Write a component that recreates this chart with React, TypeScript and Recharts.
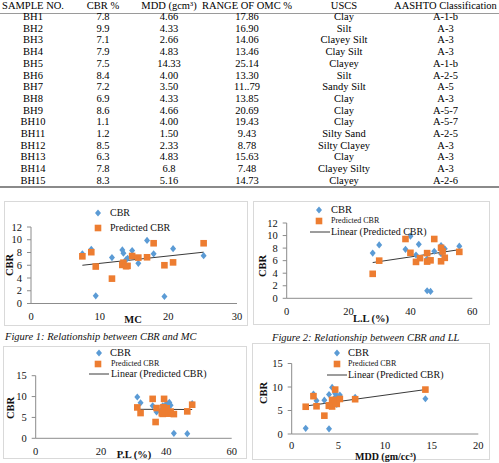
import React from 'react'
import { ScatterChart, Scatter, XAxis, YAxis, ReferenceLine } from 'recharts'

const SERIF = '"Liberation Serif", "Times New Roman", serif'
const BLUE = '#5B9BD5'
const ORANGE = '#ED7D31'
const AXIS = '#8c8c8c'

// soil test table
const samples = ['BH1', 'BH2', 'BH3', 'BH4', 'BH5', 'BH6', 'BH7', 'BH8', 'BH9', 'BH10', 'BH11', 'BH12', 'BH13', 'BH14', 'BH15']
const cbr = [7.8, 9.9, 7.1, 7.9, 7.5, 8.4, 7.2, 6.9, 8.6, 1.1, 1.2, 8.5, 6.3, 7.8, 8.3]
const mddLabels = ['4.66', '4.33', '2.66', '4.83', '14.33', '4.00', '3.50', '4.33', '4.66', '4.00', '1.50', '2.33', '4.83', '6.8', '5.16']
const omcLabels = ['17.86', '16.90', '14.06', '13.46', '25.14', '13.30', '11..79', '13.85', '20.69', '19.43', '9.43', '8.78', '15.63', '7.48', '14.73']
const omc = [17.86, 16.9, 14.06, 13.46, 25.14, 13.3, 11.79, 13.85, 20.69, 19.43, 9.43, 8.78, 15.63, 7.48, 14.73]
const uscs = ['Clay', 'Silt', 'Clayey Silt', 'Clay Silt', 'Clayey', 'Silt', 'Sandy Silt', 'Clay', 'Clay', 'Clay', 'Silty Sand', 'Silty Clayey', 'Clay', 'Clayey Silty', 'Clayey']
const aashto = ['A-1-b', 'A-3', 'A-3', 'A-3', 'A-1-b', 'A-2-5', 'A-5', 'A-3', 'A-5-7', 'A-5-7', 'A-2-5', 'A-3', 'A-3', 'A-3', 'A-2-6']
const mdd = mddLabels.map(Number)

// predicted CBR per sample
const predicted = [9.45, 7.25, 5.9, 6.4, 9.45, 6.05, 3.9, 5.85, 6.45, 6.0, 5.8, 8.05, 7.2, 7.4, 7.45]

// liquid limit plot
const llCbrX = [38.4, 40.0, 49.9, 51.1, 47.7, 49.9, 27.8, 41.8, 42.7, 46.5, 45.4, 29.9, 45.4, 50.4, 55.8]
const llPredX = [27.8, 29.9, 38.4, 40.0, 41.8, 43.1, 45.4, 45.4, 46.5, 47.7, 49.9, 49.9, 50.4, 51.1, 55.8]
const llPredY = [3.9, 6.0, 9.45, 7.25, 5.8, 6.4, 7.2, 5.85, 6.05, 9.45, 5.9, 8.05, 7.45, 6.45, 7.4]

// plastic limit plot
const plCbrX = [38.9, 31.1, 39.3, 41.3, 39.7, 40.1, 40.3, 38.6, 40.9, 46.4, 42.3, 32.1, 37.0, 35.8, 47.9]
const plPredX = [31.1, 32.1, 35.8, 36.7, 37.0, 38.9, 39.1, 39.3, 40.1, 40.5, 41.3, 42.3, 46.4, 47.9, 38.6]
const plPredY = [7.4, 6.05, 9.45, 3.9, 7.25, 5.85, 7.45, 9.45, 7.2, 5.9, 6.4, 5.8, 6.45, 8.05, 6.0]

// linear trend end points for predicted CBR
const mcTrend = [{ x: 7.48, y: 6.0 }, { x: 25.14, y: 8.05 }]
const llTrend = [{ x: 27.8, y: 5.7 }, { x: 55.8, y: 7.75 }]
const plTrend = [{ x: 31.1, y: 6.95 }, { x: 47.9, y: 6.9 }]
const mddTrend = [{ x: 1.5, y: 5.95 }, { x: 14.33, y: 9.45 }]

type Pt = { x: number; y: number }
const zip = (xs: number[], ys: number[]): Pt[] => xs.map((x, i) => ({ x, y: ys[i] }))

const Diamond = (props: any) => {
  const { cx, cy } = props
  if (cx == null || cy == null) return null
  return <polygon points={`${cx},${cy - 3.6} ${cx + 3},${cy} ${cx},${cy + 3.6} ${cx - 3},${cy}`} fill={BLUE} />
}

const Square = (props: any) => {
  const { cx, cy } = props
  if (cx == null || cy == null) return null
  return <rect x={cx - 3.3} y={cy - 3.3} width={6.6} height={6.6} fill={ORANGE} />
}

interface TxtProps {
  x: number
  y: number
  size: number
  children: React.ReactNode
  center?: boolean
  bold?: boolean
  italic?: boolean
  rotate?: boolean
}

function Txt({ x, y, size, children, center, bold, italic, rotate }: TxtProps) {
  const shift = center || rotate ? '-50%' : '0'
  return (
    <div
      style={{
        position: 'absolute',
        left: x,
        top: y,
        fontSize: size,
        lineHeight: 1,
        whiteSpace: 'nowrap',
        fontWeight: bold ? 'bold' : 'normal',
        fontStyle: italic ? 'italic' : 'normal',
        transform: `translate(${shift}, -50%)${rotate ? ' rotate(-90deg)' : ''}`,
        color: '#111',
      }}
    >
      {children}
    </div>
  )
}

interface PanelProps {
  left: number
  top: number
  width: number
  height: number
  margin: { top: number; right: number; bottom: number; left: number }
  xDomain: [number, number]
  xTicks: number[]
  yDomain: [number, number]
  yTicks: number[]
  cbrPts: Pt[]
  predPts: Pt[]
  trend: Pt[]
  xTickMargin?: number
}

function Panel(p: PanelProps) {
  const tick = { fill: '#111', fontSize: 10.5, fontFamily: SERIF }
  return (
    <div style={{ position: 'absolute', left: p.left, top: p.top, width: p.width, height: p.height }}>
      <div style={{ position: 'absolute', inset: 0, border: '1px solid #d9d9d9', boxSizing: 'border-box' }} />
      <ScatterChart width={p.width} height={p.height} margin={p.margin}>
        <XAxis
          type="number"
          dataKey="x"
          domain={p.xDomain}
          ticks={p.xTicks}
          interval={0}
          allowDataOverflow
          height={20}
          stroke={AXIS}
          tickLine={false}
          tickSize={4}
          tickMargin={p.xTickMargin ?? 5}
          tick={tick}
        />
        <YAxis
          type="number"
          dataKey="y"
          domain={p.yDomain}
          ticks={p.yTicks}
          interval={0}
          allowDataOverflow
          width={22}
          stroke={AXIS}
          tickSize={4}
          tickMargin={5}
          tick={tick}
        />
        <Scatter data={p.cbrPts} shape={Diamond} isAnimationActive={false} />
        <Scatter data={p.predPts} shape={Square} isAnimationActive={false} />
        <ReferenceLine segment={p.trend} stroke="#3a3a3a" strokeWidth={1} />
      </ScatterChart>
    </div>
  )
}

function LegendKey({ x, y, kind }: { x: number; y: number; kind: 'diamond' | 'square' | 'line' }) {
  const w = kind === 'line' ? 20 : 8
  return (
    <svg style={{ position: 'absolute', left: kind === 'line' ? x : x - 4, top: y - 4 }} width={w} height={8}>
      {kind === 'diamond' && <polygon points="4,0.4 7,4 4,7.6 1,4" fill={BLUE} />}
      {kind === 'square' && <rect x={0.7} y={0.7} width={6.6} height={6.6} fill={ORANGE} />}
      {kind === 'line' && <line x1={0} y1={4} x2={20} y2={4} stroke="#3a3a3a" strokeWidth={1} />}
    </svg>
  )
}

const colWidths = [66, 74, 58, 98, 96, 107]

function Row({ cells, y }: { cells: React.ReactNode[]; y: number }) {
  return (
    <div style={{ position: 'absolute', left: 0, top: y - 6, width: 499, height: 12, display: 'flex', fontSize: 10.5, lineHeight: '12px', color: '#000' }}>
      {cells.map((c, i) => (
        <div key={i} style={{ width: colWidths[i], textAlign: 'center', whiteSpace: 'nowrap' }}>
          {c}
        </div>
      ))}
    </div>
  )
}

export default function App() {
  const mcCbr = zip(omc, cbr)
  const mcPred = zip(omc, predicted)
  const mddCbr = zip(mdd, cbr)
  const mddPred = zip(mdd, predicted)

  return (
    <div style={{ position: 'absolute', left: 0, top: 0, width: 499, height: 463, overflow: 'hidden', background: '#fff', fontFamily: SERIF }}>
      <Row y={6} cells={['SAMPLE NO.', 'CBR %', 'MDD (gcm³)', 'RANGE OF  OMC %', 'USCS', 'AASHTO Classification']} />
      <div style={{ position: 'absolute', left: 0, top: 13, width: 499, height: 1, background: '#9a9a9a' }} />
      {samples.map((s, i) => (
        <Row key={s} y={17 + i * 11.7} cells={[s, cbr[i].toFixed(1), mddLabels[i], omcLabels[i], uscs[i], aashto[i]]} />
      ))}
      <div style={{ position: 'absolute', left: 0, top: 186, width: 499, height: 1.5, background: '#8a8a8a' }} />

      {/* CBR vs MC */}
      <Panel
        left={4} top={201} width={244} height={125}
        margin={{ top: 26, right: 11, bottom: 2.5, left: 5 }}
        xDomain={[0, 30]} xTicks={[0, 10, 20, 30]}
        yDomain={[0, 12]} yTicks={[0, 2, 4, 6, 8, 10, 12]}
        cbrPts={mcCbr} predPts={mcPred} trend={mcTrend}
      />
      <LegendKey x={98} y={213} kind="diamond" />
      <Txt x={110} y={213} size={10}>CBR</Txt>
      <LegendKey x={98} y={228} kind="square" />
      <Txt x={110} y={228} size={10}>Predicted CBR</Txt>
      <Txt x={10} y={265} size={10.5} bold rotate>CBR</Txt>
      <Txt x={133} y={320} size={10.5} bold center>MC</Txt>
      <Txt x={5} y={337} size={10.5} italic>Figure 1: Relationship between CBR and MC</Txt>

      {/* CBR vs LL */}
      <Panel
        left={253} top={201} width={237} height={124}
        margin={{ top: 22, right: 17.7, bottom: 6.7, left: 11.7 }}
        xDomain={[0, 60]} xTicks={[0, 20, 40, 60]}
        yDomain={[0, 12]} yTicks={[0, 2, 4, 6, 8, 10, 12]}
        cbrPts={zip(llCbrX, cbr)} predPts={zip(llPredX, llPredY)} trend={llTrend}
      />
      <LegendKey x={319} y={210} kind="diamond" />
      <Txt x={331} y={210} size={10.5}>CBR</Txt>
      <LegendKey x={319} y={221} kind="square" />
      <Txt x={331} y={221} size={8}>Predicted CBR</Txt>
      <LegendKey x={310} y={232} kind="line" />
      <Txt x={331} y={232} size={10}>Linear (Predicted CBR)</Txt>
      <Txt x={263} y={266} size={10.5} bold rotate>CBR</Txt>
      <Txt x={371} y={319} size={10.5} bold center>L.L (%)</Txt>
      <Txt x={272} y={338} size={10.5} italic>Figure 2: Relationship between CBR and LL</Txt>

      {/* CBR vs PL */}
      <Panel
        left={3} top={346} width={244} height={113}
        margin={{ top: 29.7, right: 15.3, bottom: 0.7, left: 10.7 }}
        xDomain={[0, 60]} xTicks={[0, 20, 40, 60]}
        yDomain={[0, 15]} yTicks={[0, 5, 10, 15]}
        cbrPts={zip(plCbrX, cbr)} predPts={zip(plPredX, plPredY)} trend={plTrend}
      />
      <LegendKey x={99} y={353} kind="diamond" />
      <Txt x={110} y={353} size={10.5}>CBR</Txt>
      <LegendKey x={98} y={364} kind="square" />
      <Txt x={111} y={364} size={8}>Predicted CBR</Txt>
      <LegendKey x={89} y={374} kind="line" />
      <Txt x={111} y={374} size={10}>Linear (Predicted CBR)</Txt>
      <Txt x={11} y={408} size={10.5} bold rotate>CBR</Txt>
      <Txt x={134} y={455} size={10.5} bold center>P.L (%)</Txt>

      {/* CBR vs MDD */}
      <Panel
        left={252} top={343} width={238} height={117}
        margin={{ top: 20.5, right: 11.7, bottom: 6, left: 17.7 }}
        xDomain={[0, 20]} xTicks={[0, 5, 10, 15, 20]}
        yDomain={[0, 15]} yTicks={[0, 5, 10, 15]}
        cbrPts={mddCbr} predPts={mddPred} trend={mddTrend}
        xTickMargin={4}
      />
      <LegendKey x={337} y={353} kind="diamond" />
      <Txt x={348} y={353} size={10.5}>CBR</Txt>
      <LegendKey x={337} y={364} kind="square" />
      <Txt x={348} y={364} size={8}>Predicted CBR</Txt>
      <LegendKey x={327} y={375} kind="line" />
      <Txt x={348} y={375} size={10}>Linear (Predicted CBR)</Txt>
      <Txt x={264} y={393} size={10.5} bold rotate>CBR</Txt>
      <Txt x={385.5} y={456.5} size={10} bold center>MDD (gm/cc³)</Txt>
    </div>
  )
}
